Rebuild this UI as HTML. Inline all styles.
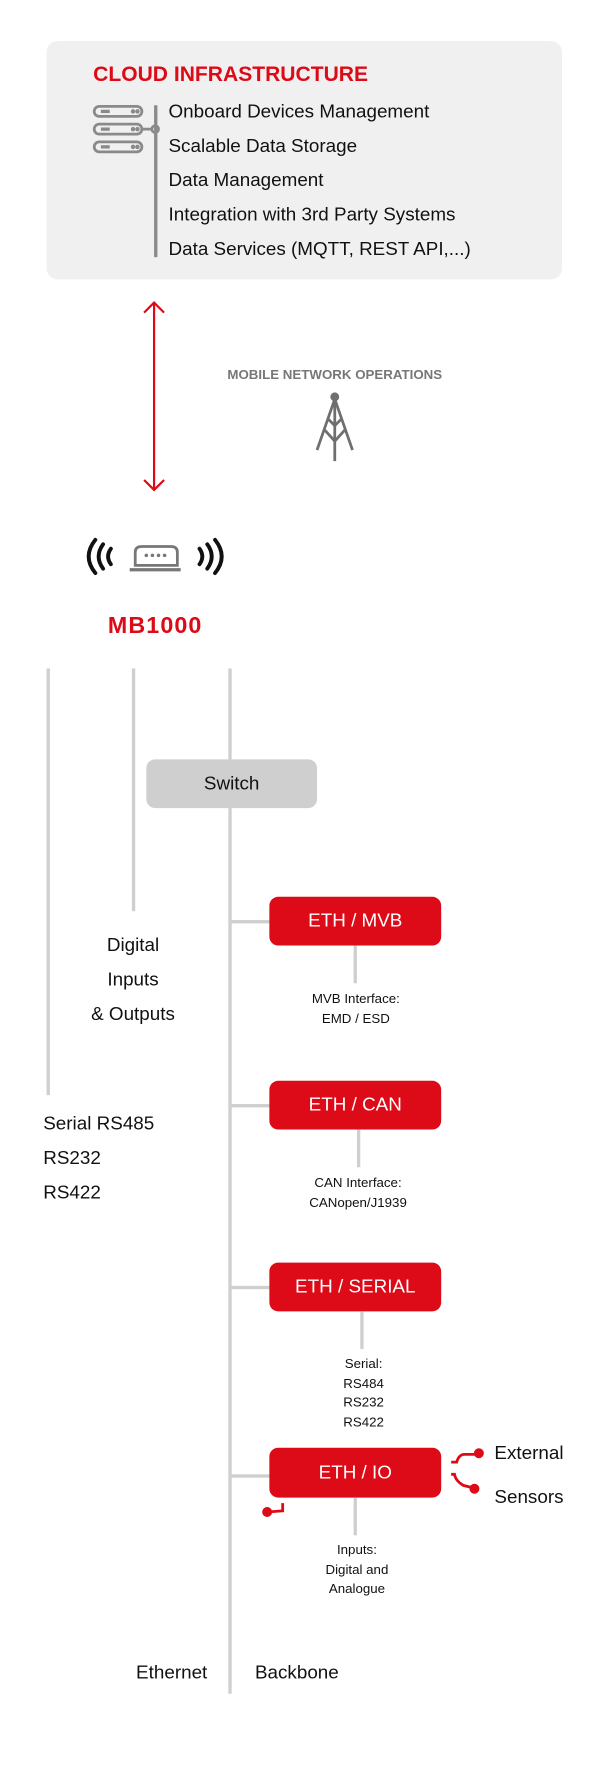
<!DOCTYPE html>
<html><head><meta charset="utf-8"><style>
html,body{margin:0;padding:0;background:#fff;width:613px;height:1773px;overflow:hidden}
#c{position:absolute;left:0;top:0;width:553px;height:1600px;transform:scale(1.1085);transform-origin:0 0;font-family:"Liberation Sans",sans-serif;color:#111}
.a{position:absolute;white-space:nowrap}
.box{position:absolute;border-radius:8px;display:flex;align-items:center;justify-content:center;font-size:17px}
.red{background:#dd0a17;color:#fff;width:155px;height:44px;left:243px}
.vl{position:absolute;width:3px;background:#cfcfcf}
.hl{position:absolute;height:3px;background:#cfcfcf}
.sm{position:absolute;font-size:12px;text-align:center;line-height:17.5px;width:140px}
.li{position:absolute;left:152px;font-size:17px}
</style></head><body><div id="c">
<div style="position:absolute;left:42px;top:37px;width:465px;height:215px;background:#f0f0f0;border-radius:10px"></div>
<div class="a" style="left:84px;top:57px;font-size:19px;font-weight:bold;color:#dd0a17">CLOUD INFRASTRUCTURE</div>
<svg class="a" style="left:80px;top:92px" width="70" height="50" viewBox="0 0 70 50">
<g fill="none" stroke="#8a8a8a" stroke-width="2.5">
<rect x="5" y="4" width="43" height="9" rx="4.5"/><rect x="5" y="20" width="43" height="9" rx="4.5"/><rect x="5" y="36" width="43" height="9" rx="4.5"/>
<line x1="48" y1="24.5" x2="57" y2="24.5"/><circle cx="60" cy="24.5" r="3"/></g>
<g fill="#8a8a8a"><circle cx="40" cy="8.5" r="2"/><circle cx="44" cy="8.5" r="2"/><circle cx="40" cy="24.5" r="2"/><circle cx="44" cy="24.5" r="2"/><circle cx="40" cy="40.5" r="2"/><circle cx="44" cy="40.5" r="2"/>
<rect x="11" y="7" width="8" height="3"/><rect x="11" y="23" width="8" height="3"/><rect x="11" y="39" width="8" height="3"/></g></svg>
<div class="vl" style="left:139px;top:95px;height:137px;background:#8a8a8a;width:2.5px"></div>
<div class="li" style="top:91px">Onboard Devices Management</div>
<div class="li" style="top:122px">Scalable Data Storage</div>
<div class="li" style="top:153px">Data Management</div>
<div class="li" style="top:184px">Integration with 3rd Party Systems</div>
<div class="li" style="top:215px">Data Services (MQTT, REST API,...)</div>
<svg class="a" style="left:126px;top:270px" width="28" height="176"><g stroke="#dd0a17" stroke-width="2" fill="none"><line x1="13" y1="3" x2="13" y2="172"/><polyline points="4,12 13,3 22,12"/><polyline points="4,163 13,172 22,163"/></g></svg>
<div class="a" style="left:202px;top:331px;width:200px;text-align:center;font-size:12px;font-weight:bold;color:#777">MOBILE NETWORK OPERATIONS</div>
<svg class="a" style="left:282px;top:352px" width="40" height="66"><g stroke="#6f6f6f" stroke-width="2.5" fill="none"><line x1="20" y1="6" x2="20" y2="64"/><line x1="20" y1="8" x2="4" y2="54"/><line x1="20" y1="8" x2="36" y2="54"/><line x1="11" y1="36" x2="20" y2="46"/><line x1="29" y1="36" x2="20" y2="46"/><line x1="14" y1="26" x2="20" y2="32"/><line x1="26" y1="26" x2="20" y2="32"/></g><circle cx="20" cy="6" r="4" fill="#6f6f6f"/></svg>
<svg class="a" style="left:72px;top:480px" width="136" height="44"><g fill="none" stroke="#111" stroke-width="3.5" stroke-linecap="round">
<path d="M14,7 Q2,22 14,37"/><path d="M21,11 Q13,22 21,33"/><path d="M28,15 Q23,22 28,29"/>
<path d="M122,7 Q134,22 122,37"/><path d="M115,11 Q123,22 115,33"/><path d="M108,15 Q113,22 108,29"/></g>
<g fill="none" stroke="#777" stroke-width="2.5"><path d="M50,30 L50,18 Q50,13 56,13 L82,13 Q88,13 88,18 L88,30 Z"/></g>
<line x1="45" y1="34" x2="91" y2="34" stroke="#777" stroke-width="3"/>
<g fill="#777"><circle cx="60" cy="21" r="1.6"/><circle cx="65.5" cy="21" r="1.6"/><circle cx="71" cy="21" r="1.6"/><circle cx="76.5" cy="21" r="1.6"/></g></svg>
<div class="a" style="left:40px;top:553px;width:200px;text-align:center;font-size:21px;font-weight:bold;color:#dd0a17;letter-spacing:1px">MB1000</div>
<div class="vl" style="left:42px;top:603px;height:385px"></div>
<div class="vl" style="left:119px;top:603px;height:219px"></div>
<div class="vl" style="left:206px;top:603px;height:925px"></div>
<div class="box" style="left:132px;top:685px;width:154px;height:44px;background:#cfcfcf;color:#111">Switch</div>
<div class="hl" style="left:207px;top:830px;width:36px"></div>
<div class="box red" style="top:809px">ETH / MVB</div>
<div class="vl" style="left:319px;top:853px;height:34px"></div>
<div class="sm" style="left:251px;top:893px">MVB Interface:<br>EMD / ESD</div>
<div class="a" style="left:60px;top:837px;width:120px;text-align:center;font-size:17px;line-height:31px">Digital<br>Inputs<br>&amp; Outputs</div>
<div class="a" style="left:39px;top:998px;font-size:17px;line-height:31px">Serial RS485<br>RS232<br>RS422</div>
<div class="hl" style="left:207px;top:996px;width:36px"></div>
<div class="box red" style="top:975px">ETH / CAN</div>
<div class="vl" style="left:322px;top:1019px;height:34px"></div>
<div class="sm" style="left:253px;top:1059px">CAN Interface:<br>CANopen/J1939</div>
<div class="hl" style="left:207px;top:1160px;width:36px"></div>
<div class="box red" style="top:1139px">ETH / SERIAL</div>
<div class="vl" style="left:325px;top:1183px;height:34px"></div>
<div class="sm" style="left:258px;top:1222px">Serial:<br>RS484<br>RS232<br>RS422</div>
<div class="hl" style="left:207px;top:1330px;width:36px"></div>
<div class="box red" style="top:1306px;height:45px">ETH / IO</div>
<div class="vl" style="left:319px;top:1351px;height:34px"></div>
<div class="sm" style="left:252px;top:1390px">Inputs:<br>Digital and<br>Analogue</div>
<svg class="a" style="left:404px;top:1300px" width="36" height="64"><g stroke="#dd0a17" stroke-width="2.5" fill="none"><path d="M3,19 L8,19 Q10,12 15,12 L26,12"/><path d="M3,30 L6,30 Q7,36 14,40 L22,42"/></g><circle cx="28" cy="11" r="4.5" fill="#dd0a17"/><circle cx="24" cy="43" r="4.5" fill="#dd0a17"/></svg>
<div class="a" style="left:446px;top:1301px;font-size:17px">External</div>
<div class="a" style="left:446px;top:1341px;font-size:17px">Sensors</div>
<svg class="a" style="left:233px;top:1352px" width="26" height="22"><path d="M22,4 L22,11 L8,12" stroke="#dd0a17" stroke-width="2.5" fill="none"/><circle cx="8" cy="12" r="4.5" fill="#dd0a17"/></svg>
<div class="a" style="left:87px;top:1499px;width:100px;text-align:right;font-size:17px">Ethernet</div>
<div class="a" style="left:230px;top:1499px;font-size:17px">Backbone</div>
</div></body></html>
